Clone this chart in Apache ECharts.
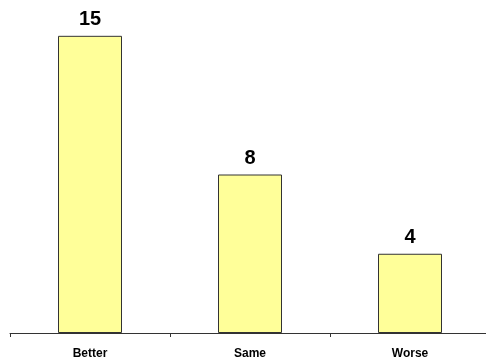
<!DOCTYPE html>
<html>
<head>
<meta charset="utf-8">
<script src="https://cdn.jsdelivr.net/npm/echarts@6/dist/echarts.min.js"></script>
<style>
  html, body { margin: 0; padding: 0; background: #fff; }
  #chart { width: 486px; height: 363px; }
</style>
</head>
<body>
<div id="chart"></div>
<script>
  var categories = ['Better', 'Same', 'Worse'];
  var counts = [15, 8, 4];

  var myChart = echarts.init(document.getElementById('chart'));
  myChart.setOption({
    animation: false,
    grid: { left: 10, top: 16, width: 480, bottom: 30, outerBoundsMode: 'none' },
    xAxis: {
      type: 'category',
      data: categories,
      axisLine: { lineStyle: { color: '#333', width: 1 } },
      axisTick: { show: true, length: 4, lineStyle: { color: '#333' } },
      axisLabel: {
        margin: 15,
        color: '#000',
        fontFamily: 'Liberation Sans, Arial, sans-serif',
        fontWeight: 'bold',
        fontSize: 12
      }
    },
    yAxis: {
      type: 'value',
      min: 0,
      max: 16,
      show: false,
      splitLine: { show: false }
    },
    series: [{
      type: 'bar',
      data: counts,
      barWidth: '40%',
      itemStyle: { color: '#FFFF99', borderColor: '#333', borderWidth: 1 },
      label: {
        show: true,
        position: 'top',
        distance: 6,
        color: '#000',
        fontFamily: 'Liberation Sans, Arial, sans-serif',
        fontWeight: 'bold',
        fontSize: 20
      }
    }]
  });
</script>
</body>
</html>
